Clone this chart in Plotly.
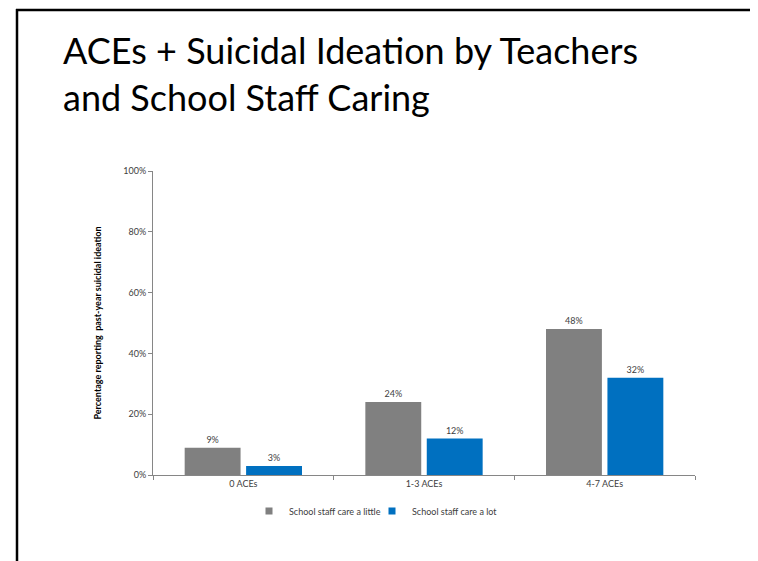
import plotly.graph_objects as go

categories = ["0 ACEs", "1-3 ACEs", "4-7 ACEs"]
care_little = [0.09, 0.24, 0.48]
care_lot = [0.03, 0.12, 0.32]
series_names = ["School staff care a little", "School staff care a lot"]
y_ticks = [0, 0.2, 0.4, 0.6, 0.8, 1.0]
y_labels = ["0%", "20%", "40%", "60%", "80%", "100%"]

# page is shown with the default 8px body margin, so aim 8px up/left
OFF = 8
W, H = 758, 561
L, T = 153 - OFF, 171 - OFF
pw, ph = 542, 304
R, B = W - L - pw, H - T - ph


def px_x(x):
    return (x - OFF - L) / pw


def px_y(y):
    return (H - B - (y - OFF)) / ph


font = "Lato, Open Sans, sans-serif"
colors = ["#808080", "#0070C0"]
legend_ids = ["legend", "legend2"]

fig = go.Figure()
for name, vals, col, lg in zip(series_names, [care_little, care_lot], colors, legend_ids):
    fig.add_trace(go.Bar(
        x=categories, y=vals, name=name, marker_color=col,
        marker_line_width=0, showlegend=False,
        text=[f"{v:.0%}" for v in vals], textposition="outside",
        textfont=dict(size=9, color="#404040"), cliponaxis=False))
    # legend-only entry with a small square key
    fig.add_trace(go.Scatter(
        x=[None], y=[None], mode="markers", name=name, legend=lg,
        marker=dict(symbol="square", size=7, color=col)))

leg = dict(orientation="h", xanchor="left", y=px_y(511), yanchor="middle",
           font=dict(size=9, color="#404040"), itemsizing="trace",
           bgcolor="rgba(0,0,0,0)")

fig.update_layout(
    width=W, height=H,
    margin=dict(l=L, r=R, t=T, b=B),
    paper_bgcolor="white", plot_bgcolor="white",
    font=dict(family=font, color="#404040"),
    barmode="group", bargap=0.32, bargroupgap=0.09,
    showlegend=True,
    legend=dict(leg, x=px_x(249)),
    legend2=dict(leg, x=px_x(372)),
    annotations=[dict(
        text="ACEs + Suicidal Ideation by Teachers<br>and School Staff Caring",
        xref="paper", yref="paper", x=px_x(61), y=px_y(26),
        xanchor="left", yanchor="top", align="left", showarrow=False,
        font=dict(size=36, color="black", family=font))],
    shapes=[
        dict(type="line", xref="paper", yref="paper",
             x0=px_x(17), x1=px_x(17), y0=px_y(9), y1=px_y(600),
             line=dict(color="black", width=2.5)),
        dict(type="line", xref="paper", yref="paper",
             x0=px_x(16), x1=px_x(800), y0=px_y(10), y1=px_y(10),
             line=dict(color="black", width=2.5)),
    ],
)

fig.update_xaxes(showline=True, linecolor="#868686", linewidth=1,
                 ticks="outside", tickson="boundaries", ticklen=4,
                 tickcolor="#868686", tickfont=dict(size=9, color="#404040"))
fig.update_yaxes(range=[0, 1], tickvals=y_ticks, ticktext=y_labels,
                 showline=True, linecolor="#868686", linewidth=1,
                 ticks="outside", ticklen=4, tickcolor="#868686",
                 showgrid=False, zeroline=False,
                 tickfont=dict(size=9, color="#404040"),
                 title=dict(text="<b>Percentage reporting  past-year suicidal ideation</b>",
                            font=dict(size=9, color="black"), standoff=20))

fig.write_html("out.html")
